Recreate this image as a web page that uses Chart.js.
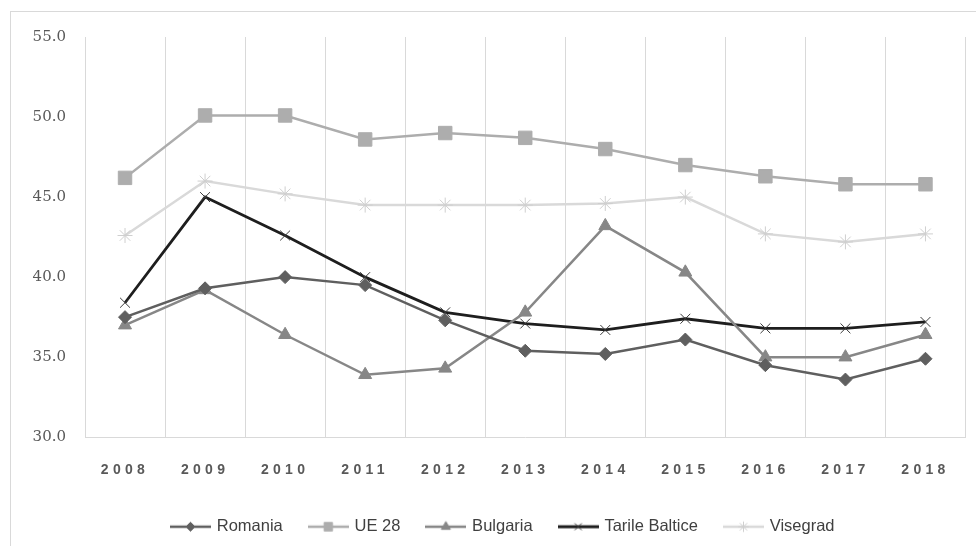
<!DOCTYPE html>
<html>
<head>
<meta charset="utf-8">
<script src="https://cdn.jsdelivr.net/npm/chart.js@4"></script>
<style>
  html, body { margin: 0; padding: 0; background: #fff; }
  #wrap { position: relative; width: 976px; height: 546px; overflow: hidden; }
  #frame { position: absolute; left: 10px; top: 11px; width: 1000px; height: 600px; border: 1px solid #d9d9d9; }
  #c { position: absolute; left: 0; top: 0; }
</style>
</head>
<body>
<div id="wrap">
  <div id="frame"></div>
  <canvas id="c" width="976" height="546"></canvas>
</div>
<script>
// data
var years = ['2008', '2009', '2010', '2011', '2012', '2013', '2014', '2015', '2016', '2017', '2018'];
var romania = [37.5, 39.3, 40.0, 39.5, 37.3, 35.4, 35.2, 36.1, 34.5, 33.6, 34.9];
var ue28 = [46.2, 50.1, 50.1, 48.6, 49.0, 48.7, 48.0, 47.0, 46.3, 45.8, 45.8];
var bulgaria = [37.0, 39.2, 36.4, 33.9, 34.3, 37.8, 43.2, 40.3, 35.0, 35.0, 36.4];
var baltice = [38.4, 45.0, 42.6, 40.0, 37.8, 37.1, 36.7, 37.4, 36.8, 36.8, 37.2];
var visegrad = [42.6, 46.0, 45.2, 44.5, 44.5, 44.5, 44.6, 45.0, 42.7, 42.2, 42.7];
var yTicks = [30, 35, 40, 45, 50, 55];

function makeSeries(label, data, color, style, radius, markerColor, width) {
  return {
    label: label,
    data: data,
    borderColor: color,
    backgroundColor: markerColor || color,
    borderWidth: width || 2.5,
    pointStyle: style,
    pointRadius: radius,
    pointHoverRadius: radius,
    pointBorderColor: markerColor || color,
    pointBackgroundColor: markerColor || color,
    pointBorderWidth: 1,
    tension: 0
  };
}

var datasets = [
  makeSeries('Romania', romania, '#5f5f5f', 'rectRot', 6.5),
  makeSeries('UE 28', ue28, '#adadad', 'rect', 9.5),
  makeSeries('Bulgaria', bulgaria, '#878787', 'triangle', 7.5),
  makeSeries('Tarile Baltice', baltice, '#1e1e1e', 'crossRot', 7, '#3a3a3a', 2.8),
  makeSeries('Visegrad', visegrad, '#d9d9d9', 'star', 7.5, '#cfcfcf')
];

// legend icon: short line with the marker in the middle (Excel style)
function makeIcon(ds) {
  var cv = document.createElement('canvas');
  cv.width = 41; cv.height = 14;
  var g = cv.getContext('2d');
  g.strokeStyle = ds.borderColor;
  g.lineWidth = ds.borderWidth;
  g.beginPath(); g.moveTo(0, 7); g.lineTo(41, 7); g.stroke();
  g.fillStyle = ds.pointBackgroundColor;
  g.strokeStyle = ds.pointBorderColor;
  g.lineWidth = 1;
  Chart.helpers.drawPoint(g, { pointStyle: ds.pointStyle, radius: Math.min(ds.pointRadius * 0.7, 6), rotation: 0, borderWidth: 1 }, 20.5, 7);
  return cv;
}

var ctx = document.getElementById('c');
var chart = new Chart(ctx, {
  type: 'line',
  data: { labels: years, datasets: datasets },
  options: {
    responsive: false,
    animation: false,
    events: [],
    layout: { padding: { top: 37, right: 9, left: 0, bottom: 1 } },
    plugins: {
      tooltip: { enabled: false },
      legend: {
        position: 'bottom',
        labels: {
          usePointStyle: true,
          pointStyleWidth: 36,
          padding: 27.5,
          color: '#404040',
          font: { family: "'Liberation Sans', sans-serif", size: 16.5 },
          generateLabels: function (c) {
            return c.data.datasets.map(function (ds, i) {
              return {
                text: ds.label,
                pointStyle: makeIcon(ds),
                fillStyle: ds.borderColor,
                strokeStyle: ds.borderColor,
                lineWidth: 0,
                fontColor: '#404040',
                datasetIndex: i
              };
            });
          }
        }
      }
    },
    scales: {
      x: {
        offset: true,
        afterFit: function (s) { s.height = s.height - 13; },
        grid: { display: true, color: '#d9d9d9', lineWidth: 1, drawTicks: false, offset: true },
        border: { display: true, color: '#d9d9d9', width: 1 },
        ticks: {
          color: '#595959',
          padding: 25,
          maxRotation: 0,
          font: { family: "'Liberation Sans', sans-serif", size: 14, weight: 'bold' }
        }
      },
      y: {
        min: 30,
        max: 55,
        afterFit: function (s) { s.width = 85; },
        afterBuildTicks: function (s) { s.ticks = yTicks.map(function (v) { return { value: v }; }); },
        grid: { display: false, drawTicks: false },
        border: { display: false },
        ticks: {
          color: '#595959',
          padding: 19,
          font: { family: "'DejaVu Serif', serif", size: 15 },
          callback: function (v) { return Number(v).toFixed(1); }
        }
      }
    }
  },
  plugins: [{
    id: 'spacedYears',
    afterLayout: function (c) {
      // legend sits centred on the outer frame, a bit right of the canvas centre
      c.legend.left += 20;
      c.legend.right += 20;
      var sx = c.scales.x;
      if (sx._spaced) return;
      var orig = sx.drawLabels;
      sx.drawLabels = function (area) {
        var g = c.ctx;
        g.save();
        g.letterSpacing = '4.3px';
        orig.call(this, area);
        g.restore();
      };
      sx._spaced = true;
    }
  }]
});
</script>
</body>
</html>
